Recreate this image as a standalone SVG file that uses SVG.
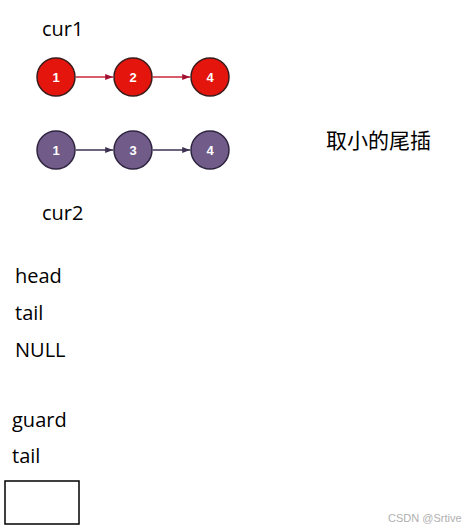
<svg xmlns="http://www.w3.org/2000/svg" width="474" height="532" viewBox="0 0 474 532">
<defs>
<style>
.lbl{font-family:"Open Sans","Noto Sans CJK SC",sans-serif;font-size:20px;fill:#000}
.cjk{font-family:"Noto Sans CJK SC",sans-serif;font-size:21px;fill:#000}
.num{font-family:"Liberation Sans",Arial,sans-serif;font-size:13px;font-weight:bold;fill:#fff;text-anchor:middle}
.red{fill:#e3150d;stroke:#3a1a1a;stroke-width:1.5}
.pur{fill:#715b88;stroke:#2e2440;stroke-width:1.5}
.lr{stroke:#c8283a;stroke-width:1.3;fill:none}
.lp{stroke:#3d3052;stroke-width:1.3;fill:none}
.wm{font-family:"Liberation Sans",Arial,sans-serif;font-size:11px;fill:#b0b0b0}
</style>
<marker id="ar" viewBox="0 0 10 10" refX="10" refY="5" markerWidth="6" markerHeight="6" orient="auto"><path d="M0,1L10,5L0,9z" fill="#a01030"/></marker>
<marker id="ap" viewBox="0 0 10 10" refX="10" refY="5" markerWidth="6" markerHeight="6" orient="auto"><path d="M0,1L10,5L0,9z" fill="#3d3052"/></marker>
</defs>
<rect width="474" height="532" fill="#fff"/>
<g id="connectors">
<line class="lr" x1="76" y1="77" x2="113" y2="77" marker-end="url(#ar)"/>
<line class="lr" x1="153" y1="77" x2="190" y2="77" marker-end="url(#ar)"/>
<line class="lp" x1="76" y1="150" x2="113" y2="150" marker-end="url(#ap)"/>
<line class="lp" x1="153" y1="150" x2="190" y2="150" marker-end="url(#ap)"/>
</g>
<g id="r1"><circle class="red" cx="56" cy="77" r="19"/><text class="num" x="56" y="82">1</text></g>
<g id="r2"><circle class="red" cx="133" cy="77" r="19"/><text class="num" x="133" y="82">2</text></g>
<g id="r4"><circle class="red" cx="210" cy="77" r="19"/><text class="num" x="210" y="82">4</text></g>
<g id="p1"><circle class="pur" cx="56" cy="150" r="19"/><text class="num" x="56" y="155">1</text></g>
<g id="p3"><circle class="pur" cx="133" cy="150" r="19"/><text class="num" x="133" y="155">3</text></g>
<g id="p4"><circle class="pur" cx="210" cy="150" r="19"/><text class="num" x="210" y="155">4</text></g>
<text class="lbl" x="42" y="36">cur1</text>
<text class="lbl" x="42" y="220">cur2</text>
<text class="cjk" x="326" y="148">取小的尾插</text>
<text class="lbl" x="15" y="283">head</text>
<text class="lbl" x="15" y="320">tail</text>
<text class="lbl" x="15" y="357">NULL</text>
<text class="lbl" x="12" y="427">guard</text>
<text class="lbl" x="12" y="463">tail</text>
<g id="box"><rect x="5" y="481" width="74" height="43" fill="none" stroke="#000" stroke-width="1.5"/></g>
<text class="wm" x="388" y="522">CSDN @Srtive</text>
</svg>
